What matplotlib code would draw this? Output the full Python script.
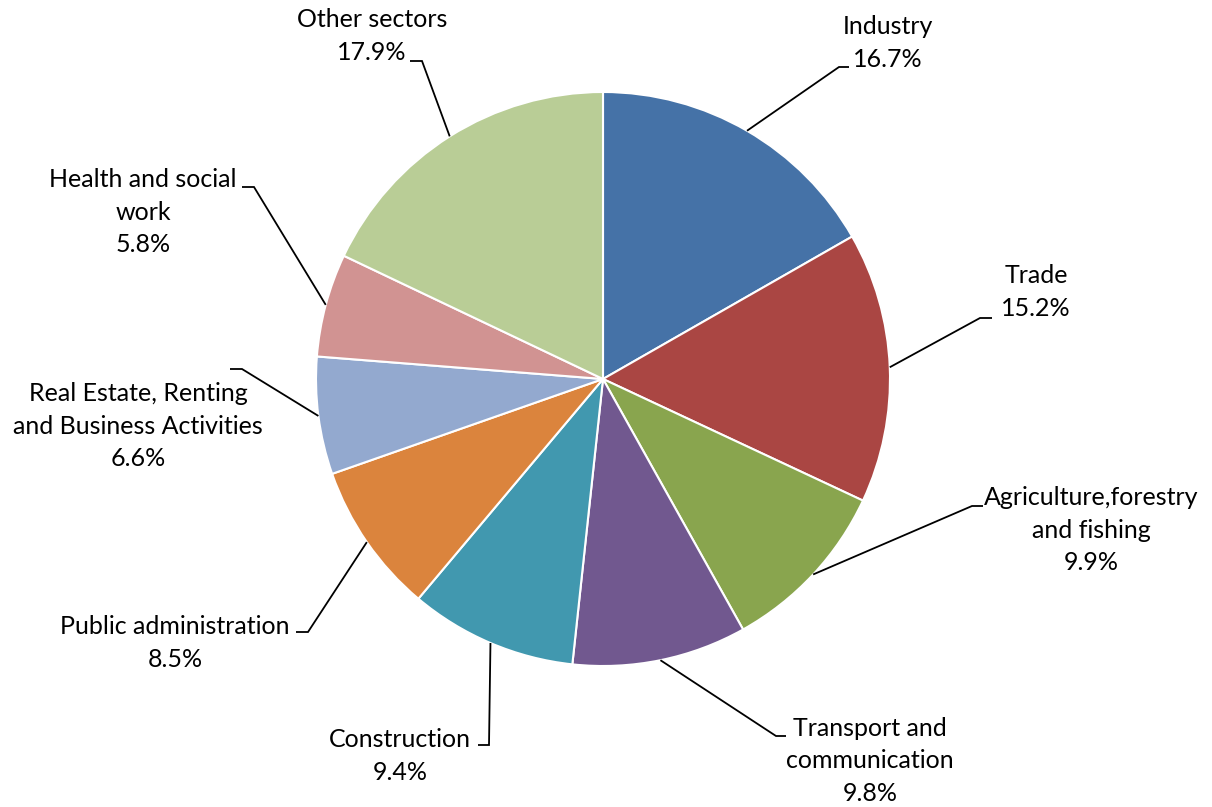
import numpy as np
import matplotlib.pyplot as plt

plt.rcParams['font.family'] = ['Lato', 'DejaVu Sans']

# ---------- Data ----------
sectors = ["Industry", "Trade", "Agriculture,forestry\nand fishing",
           "Transport and\ncommunication", "Construction", "Public administration",
           "Real Estate, Renting\nand Business Activities", "Health and social\nwork",
           "Other sectors"]
shares = [16.7, 15.2, 9.9, 9.8, 9.4, 8.5, 6.6, 5.8, 17.9]
colors = ["#4572A7", "#AA4643", "#89A54E", "#71588F", "#4198AF",
          "#DB843D", "#93A9CF", "#D19392", "#B9CD96"]

# ---------- Layout (pixel coords, y measured from top) ----------
W, H = 1212, 807
cx, cy, R = 603, 379, 287
# label centre, elbow point, end of short horizontal tick
label_pos = [(888, 43), (1036, 292), (1091, 530), (870, 761), (400, 756),
             (175, 643), (138, 426), (143, 212), (372, 36)]
elbow = [(839, 67), (980, 318), (972, 506), (776, 736), (489, 745),
         (308, 632), (242, 369), (254, 187), (422, 61)]
tick_end = [(849, 67), (992, 318), (983, 506), (786, 736), (478, 745),
            (296, 632), (230, 369), (242, 187), (410, 61)]

def Y(v):
    return H - v

fig = plt.figure(figsize=(W / 100, H / 100), dpi=100)
ax = fig.add_axes([0, 0, 1, 1])

wedges, _ = ax.pie(shares, colors=colors, startangle=90, counterclock=False,
                   center=(cx, Y(cy)), radius=R,
                   wedgeprops=dict(edgecolor='white', linewidth=1.5))
ax.set_xlim(0, W)
ax.set_ylim(0, H)
ax.axis('off')

for w, name, val, (lx, ly), (ex, ey), (tx, ty) in zip(
        wedges, sectors, shares, label_pos, elbow, tick_end):
    mid = np.deg2rad((w.theta1 + w.theta2) / 2)
    px = cx + R * np.cos(mid)
    py = Y(cy) + R * np.sin(mid)
    ax.plot([px, ex, tx], [py, Y(ey), Y(ty)], color='black', lw=1.3,
            solid_capstyle='butt', solid_joinstyle='miter')
    ax.text(lx, Y(ly), f"{name}\n{val:.1f}%", ha='center', va='center',
            multialignment='center', fontsize=18, linespacing=1.5,
            color='black')

fig.savefig("out.png", dpi=100)
